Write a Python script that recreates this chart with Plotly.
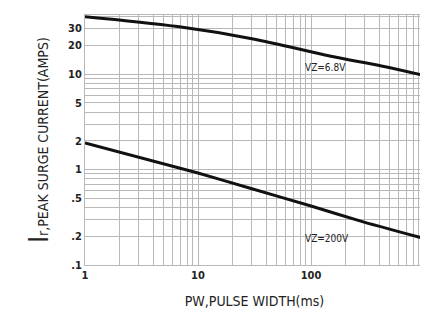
import plotly.graph_objects as go

# Data
pw_68 = [1, 6.6, 30, 150, 420, 1000]
ir_68 = [40, 31.5, 23.5, 15.4, 12.2, 9.7]

pw_200 = [1, 10, 30, 100, 300, 1000]
ir_200 = [1.9, 0.92, 0.63, 0.415, 0.28, 0.19]

x_tick_vals = [1, 10, 100, 1000]
x_tick_text = ["1", "10", "100", "1000"]
y_tick_vals = [0.1, 0.2, 0.5, 1, 2, 5, 10, 20, 30]
y_tick_text = [".1", ".2", ".5", "1", "2", "5", "10", "20", "30"]

x_grid = [m * 10 ** e for e in range(0, 3) for m in range(1, 10)] + [1000]
y_grid = [round(m * 10 ** e, 3) for e in (-1, 0) for m in range(1, 10)] + [10, 20, 30, 40]

label_68 = "VZ=6.8V"
label_200 = "VZ=200V"

FONT = "DejaVu Sans Condensed, Liberation Sans Narrow, Arial Narrow, sans-serif"

fig = go.Figure()
fig.add_trace(go.Scatter(x=pw_68, y=ir_68, mode="lines",
                         line=dict(color="#111", width=3, shape="spline", smoothing=1.0),
                         showlegend=False))
fig.add_trace(go.Scatter(x=pw_200, y=ir_200, mode="lines",
                         line=dict(color="#111", width=3, shape="spline", smoothing=0.6),
                         showlegend=False))

fig.add_annotation(x=2.13, y=1.065, xref="x", yref="y", text=label_68, showarrow=False,
                   font=dict(family=FONT, size=10, color="#222"))
fig.add_annotation(x=2.14, y=-0.727, xref="x", yref="y", text=label_200, showarrow=False,
                   font=dict(family=FONT, size=10, color="#222"))

xt_text = [x_tick_text[x_tick_vals.index(v)] if v in x_tick_vals else "" for v in x_grid]
yt_text = [y_tick_text[y_tick_vals.index(v)] if v in y_tick_vals else "" for v in y_grid]

tickfont = dict(family=FONT, size=11, color="#222", weight="bold")

fig.update_xaxes(type="log", range=[0, 3], tickmode="array", tickvals=x_grid, ticktext=xt_text,
                 showgrid=True, gridcolor="#b8b8b8", gridwidth=1,
                 showline=True, linecolor="#b8b8b8", mirror=True, zeroline=False,
                 ticks="", tickfont=tickfont,
                 title=dict(text="PW,PULSE WIDTH(ms)", font=dict(family=FONT, size=14, color="#222"),
                            standoff=14))
fig.update_yaxes(type="log", range=[-1, 1.62], tickmode="array", tickvals=y_grid, ticktext=yt_text,
                 showgrid=True, gridcolor="#b8b8b8", gridwidth=1,
                 showline=True, linecolor="#b8b8b8", mirror=True, zeroline=False,
                 ticks="", tickfont=tickfont,
                 title=dict(text="<span style='font-size:26px'>I</span>r,PEAK SURGE CURRENT(AMPS)",
                            font=dict(family=FONT, size=14, color="#222"), standoff=16))

fig.update_layout(width=428, height=313, margin=dict(l=77, r=12, t=7, b=56),
                  plot_bgcolor="white", paper_bgcolor="white")

fig.write_html("out.html")
